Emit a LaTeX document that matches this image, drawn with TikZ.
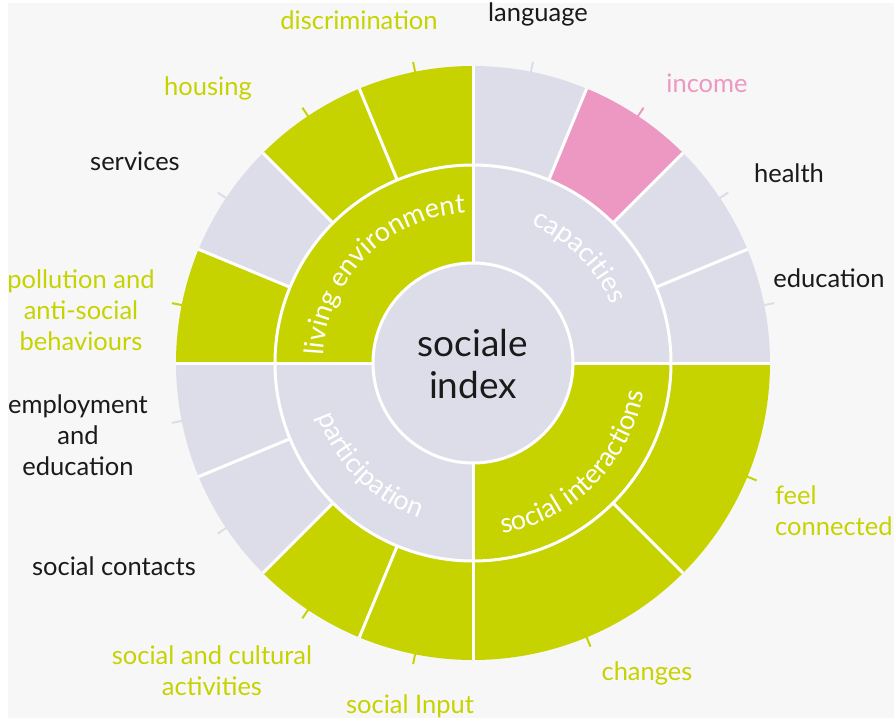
\documentclass[tikz,border=0pt]{standalone}
\usepackage{fontspec}
\setmainfont{Lato}
\usetikzlibrary{decorations.text}

\definecolor{ringgreen}{HTML}{C6D300}
\definecolor{ringgrey}{HTML}{DDDDE9}
\definecolor{ringpink}{HTML}{EC98C2}
\definecolor{pagebg}{HTML}{F7F7F7}
\definecolor{inkblack}{HTML}{1A1A1A}

\newcommand\labelfont{\fontsize{25.5}{31}\selectfont}
\newcommand\ringfont{\fontsize{27}{32}\selectfont}

\tikzset{
  sep/.style={white, line width=3pt},
  lbl/.style={font=\labelfont, align=center, anchor=base, text=#1, inner sep=0pt},
  ringtext/.style={decorate, decoration={text along path, text align=center, text={|\ringfont\color{white}|#1}}}
}

\begin{document}
\begin{tikzpicture}[x=1pt,y=1pt]
\fill[pagebg] (-465,360) rectangle (421,-355);
\useasboundingbox (-473,363) rectangle (421,-355);

% outer ring with a tick in the middle of each segment
\foreach \a/\b/\c [evaluate=\a as \m using (\a+\b)/2] in {
  90/67.5/ringgrey, 67.5/45/ringpink, 45/22.5/ringgrey, 22.5/0/ringgrey,
  0/-45/ringgreen, -45/-90/ringgreen,
  -90/-112.5/ringgreen, -112.5/-135/ringgreen, -135/-157.5/ringgrey, -157.5/-180/ringgrey,
  180/157.5/ringgreen, 157.5/135/ringgrey, 135/112.5/ringgreen, 112.5/90/ringgreen}
{
  \fill[\c] (\a:198) arc[start angle=\a, end angle=\b, radius=198]
    -- (\b:297) arc[start angle=\b, end angle=\a, radius=297] -- cycle;
  \draw[\c, line width=2pt] (\m:296) -- (\m:307);
}

% the four themes
\foreach \a/\c in {90/ringgrey, 0/ringgreen, -90/ringgrey, 180/ringgreen}
  \fill[\c] (0,0) -- (\a:198) arc[start angle=\a, end angle=\a-90, radius=198] -- cycle;

\draw[sep] (0,0) circle[radius=198];
\foreach \a in {0, 90, 180, 270}
  \draw[sep] (\a:100) -- (\a:297);
\foreach \a in {22.5, 45, 67.5, 112.5, 135, 157.5, 202.5, 225, 247.5, 315}
  \draw[sep] (\a:198) -- (\a:297);

\node[circle, fill=ringgrey, draw=white, line width=3pt, minimum size=200pt, inner sep=0pt] (hub) at (0,0) {};
\node[font=\fontsize{37}{42}\selectfont, align=center, text=inkblack] (title) at (0,-1) {sociale\\index};

\path[ringtext=living environment] (180:150) arc[start angle=180, end angle=90, radius=150];
\path[ringtext=capacities] (90:150) arc[start angle=90, end angle=0, radius=150];
\path[ringtext=social interactions] (-90:173) arc[start angle=-90, end angle=0, radius=173];
\path[ringtext=participation] (180:164) arc[start angle=180, end angle=270, radius=164];

% labels sit on the baseline of their last line
\foreach \x/\y/\c/\txt [count=\i] in {
  65/341/inkblack/language, 234/270/ringpink/income, 316/180/inkblack/health,
  356/76/inkblack/education, 174/-317/ringgreen/changes, -63/-350/ringgreen/social Input,
  -261/-332/ringgreen/{social and cultural\\activities}, -359/-212/inkblack/social contacts,
  -395/-112/inkblack/{employment\\and\\education},
  -392/13/ringgreen/{pollution and\\anti-social\\behaviours},
  -338/193/inkblack/services, -265/267/ringgreen/housing, -114/333/ringgreen/discrimination}
  \node[lbl=\c] (lbl\i) at (\x,\y) {\txt};
\node[lbl=ringgreen, anchor=base west, align=left] (lblfeel) at (302,-172) {feel\\connected};
\end{tikzpicture}
\end{document}
